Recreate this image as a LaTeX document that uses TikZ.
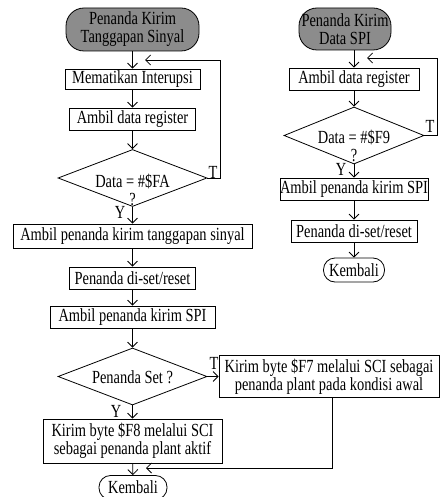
\documentclass[tikz,border=0pt]{standalone}
\usepackage{fontspec}
\setmainfont{Liberation Serif}[FakeStretch=0.78]
\usetikzlibrary{shapes.geometric,arrows.meta}
\definecolor{startgray}{RGB}{140,140,140}

\begin{document}
\begin{tikzpicture}[x=1pt,y=-1pt,
  every node/.style={font=\fontsize{18.5}{18}\selectfont, inner sep=0pt},
  box/.style={draw=black, line width=0.8pt, fill=white, minimum height=22pt, align=center},
  startbox/.style={draw=black, line width=0.8pt, fill=startgray, rounded corners=18pt, align=center},
  endbox/.style={draw=black, line width=0.8pt, fill=white, rounded corners=11.5pt, minimum height=24pt},
  decision/.style={draw=black, line width=0.8pt, diamond, minimum width=149pt, minimum height=57pt},
  flow/.style={draw=black, line width=0.8pt, -{Straight Barb[length=5pt,width=10pt]}},
  tag/.style={inner sep=0pt}
]
\useasboundingbox (0,0) rectangle (440,497);

% ---- left flow: Penanda Kirim Tanggapan Sinyal ----
\node[startbox, minimum width=133pt, minimum height=43pt] (s1) at (132.5,29.5) {Penanda Kirim\\Tanggapan Sinyal};
\node[box, minimum width=135pt, minimum height=20pt] (b1) at (132.5,79) {Mematikan Interupsi};
\node[box, minimum width=126pt] (b2) at (132.5,119) {Ambil data register};
\node[decision] (d1) at (132.5,178) {};
\node[tag, align=center] (d1t) at (132.5,190) {Data = \#\$FA\\?};
\node[box, minimum width=239pt, minimum height=24pt] (b3) at (132.5,236) {Ambil penanda kirim tanggapan sinyal};
\node[box, minimum width=126pt] (b4) at (132.5,278) {Penanda di-set/reset};
\node[box, minimum width=165pt] (b5) at (132.5,317) {Ambil penanda kirim SPI};
\node[decision] (d2) at (132.5,376.5) {};
\node[tag] (d2t) at (132.5,377) {Penanda Set ?};
\node[box, minimum width=179pt, minimum height=44pt] (b6) at (132.5,441) {Kirim byte \$F8 melalui SCI\\sebagai penanda plant aktif};
\node[endbox, minimum width=68pt] (k1) at (133,487.5) {Kembali};
\node[box, minimum width=220pt, minimum height=42pt] (f7) at (329,376.5) {Kirim byte \$F7 melalui SCI sebagai\\penanda plant pada kondisi awal};

\coordinate (j1) at (145,60);
\coordinate (j3) at (146,468);

\draw[flow] (s1) -- (b1);
\draw[flow] (b1) -- (b2);
\draw[flow] (b2) -- (d1);
\draw[flow] (d1) -- (b3);
\draw[flow] (b3) -- (b4);
\draw[flow] (b4) -- (b5);
\draw[flow] (b5) -- (d2);
\draw[flow] (d2) -- (b6);
\draw[flow] (b6) -- (k1);
\draw[flow] (d1.east) -- ++(13,0) |- (j1);
\draw[flow] (d2.east) -- (f7.west);
\draw[flow] ([xshift=3pt]f7.south) |- (j3);

\node[tag] (t1) at (213,172) {T};
\node[tag] (y1) at (120,212) {Y};
\node[tag] (t2) at (214,363) {T};
\node[tag] (y2) at (116,411) {Y};

% ---- right flow: Penanda Kirim Data SPI ----
\node[startbox, minimum width=92pt, minimum height=42pt] (s2) at (345,29) {Penanda Kirim\\Data SPI};
\node[box, minimum width=130pt] (r1) at (354,79) {Ambil data register};
\node[decision, minimum width=140pt] (rd) at (354,135.5) {};
\node[tag, align=center] (rdt) at (354,146) {Data = \#\$F9\\?};
\node[box, minimum width=146pt] (r2) at (354,189) {Ambil penanda kirim SPI};
\node[box, minimum width=126pt] (r3) at (354,231) {Penanda di-set/reset};
\node[endbox, minimum width=61pt] (k2) at (354,270) {Kembali};

\coordinate (j2) at (367,58);

\draw[flow] (r1.north |- s2.south) -- (r1.north);
\draw[flow] (r1) -- (rd);
\draw[flow] (rd) -- (r2);
\draw[flow] (r2) -- (r3);
\draw[flow] (r3) -- (k2);
\draw[flow] (rd.east) -- ++(13,0) |- (j2);

\node[tag] (t3) at (430,126) {T};
\node[tag] (y3) at (341,169.5) {Y};
\end{tikzpicture}
\end{document}
